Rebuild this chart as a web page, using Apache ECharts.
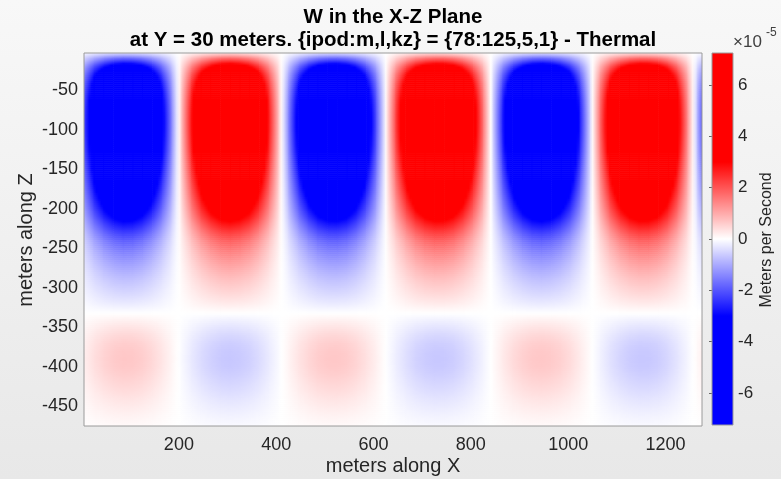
<!DOCTYPE html>
<html>
<head>
<meta charset="utf-8">
<script src="https://cdn.jsdelivr.net/npm/echarts@6/dist/echarts.min.js"></script>
<style>
  html, body { margin: 0; padding: 0; }
  #main { width: 781px; height: 479px; }
</style>
</head>
<body>
<div id="main"></div>
<script>
// x positions (m) and normalised W shape along X
var xNodes = [5, 25, 45, 65, 85, 105, 125, 145, 165, 185, 205, 225, 245, 265, 285, 305, 325, 345, 365, 385,
    405, 425, 445, 465, 485, 505, 525, 545, 565, 585, 605, 625, 645, 665, 685, 705, 725, 745, 765, 785,
    805, 825, 845, 865, 885, 905, 925, 945, 965, 985, 1005, 1025, 1045, 1065, 1085, 1105, 1125, 1145, 1165, 1185,
    1205, 1225, 1245, 1265, 1275];
var xShape = [-0.30, -0.57, -0.78, -0.93, -1.00, -0.98, -0.88, -0.70, -0.46, -0.19,
    0.10, 0.39, 0.64, 0.83, 0.96, 1.00, 0.95, 0.83, 0.63, 0.37,
    0.09, -0.20, -0.48, -0.71, -0.89, -0.98, -0.99, -0.92, -0.76, -0.54,
    -0.28, 0.01, 0.30, 0.56, 0.78, 0.92, 0.99, 0.98, 0.89, 0.72,
    0.49, 0.22, -0.07, -0.37, -0.63, -0.83, -0.96, -1.00, -0.95, -0.82,
    -0.62, -0.35, -0.06, 0.24, 0.52, 0.75, 0.91, 0.99, 0.98, 0.89,
    0.71, 0.46, 0.18, -0.12, -0.27];

// depths (m) and W amplitude along Z (x 1e-5 m/s)
var zNodes = [-3, -10, -20, -30, -40, -50, -60, -70, -80, -90, -100, -110, -120, -130, -140, -150, -160, -170,
    -180, -190, -200, -210, -220, -230, -240, -250, -260, -270, -280, -290, -300, -310, -320, -330, -340,
    -350, -360, -370, -380, -390, -400, -410, -420, -430, -440, -450, -460, -470, -475];
var zShape = [0.4, 1.8, 3.6, 4.9, 5.8, 6.4, 6.8, 7.05, 7.2, 7.25, 7.2, 7.05, 6.85, 6.6, 6.3, 5.95, 5.55, 5.15,
    4.75, 4.3, 3.85, 3.35, 2.8, 2.3, 1.9, 1.6, 1.35, 1.12, 0.92, 0.74, 0.58, 0.42, 0.25, 0.05, -0.15,
    -0.32, -0.47, -0.58, -0.64, -0.66, -0.64, -0.58, -0.5, -0.42, -0.33, -0.25, -0.17, -0.1, -0.07];

var xTicks = [200, 400, 600, 800, 1000, 1200];
var zTicks = [-50, -100, -150, -200, -250, -300, -350, -400, -450];
var cbarTicks = [-6, -4, -2, 0, 2, 4, 6];
var cbarRange = [-7.25, 7.25];

var FONT = '"Liberation Sans", Arial, Helvetica, sans-serif';
var SAT = 3;     // colormap is fully saturated beyond +-3e-5
var NSUB = 4;

function wColor(v) {
    var t = Math.min(Math.abs(v) / SAT, 1);
    var c = Math.round(255 * (1 - t));
    return v < 0 ? 'rgb(' + c + ',' + c + ',255)' : 'rgb(255,' + c + ',' + c + ')';
}

// field table W(x,z) = shape(x) * amplitude(z)
var field = [];
for (var i = 0; i < xNodes.length; i++) {
    field.push([]);
    for (var j = 0; j < zNodes.length; j++) {
        field[i].push(xShape[i] * zShape[j]);
    }
}

var cells = [];
for (i = 0; i < xNodes.length - 1; i++) {
    for (j = 0; j < zNodes.length - 1; j++) {
        cells.push([xNodes[i], zNodes[j], xNodes[i + 1], zNodes[j + 1], i, j]);
    }
}

function renderCell(params, api) {
    var ci = api.value(4), cj = api.value(5);
    var p0 = api.coord([api.value(0), api.value(1)]);
    var p1 = api.coord([api.value(2), api.value(3)]);
    var w = p1[0] - p0[0], h = p1[1] - p0[1];
    var kids = [];
    for (var s = 0; s < NSUB; s++) {
        var f = (s + 0.5) / NSUB;
        var vl = field[ci][cj] * (1 - f) + field[ci][cj + 1] * f;
        var vr = field[ci + 1][cj] * (1 - f) + field[ci + 1][cj + 1] * f;
        var stops = [];
        for (var k = 0; k <= 4; k++) {
            stops.push({offset: k / 4, color: wColor(vl + (vr - vl) * k / 4)});
        }
        kids.push({
            type: 'rect',
            silent: true,
            shape: {x: p0[0], y: p0[1] + s * h / NSUB, width: w + 0.6, height: h / NSUB + 0.6},
            style: {fill: new echarts.graphic.LinearGradient(0, 0, 1, 0, stops)}
        });
    }
    return {type: 'group', children: kids};
}

function renderBar(params, api) {
    var p0 = api.coord([api.value(0), api.value(3)]);
    var p1 = api.coord([api.value(2), api.value(1)]);
    var stops = [];
    for (var k = 0; k <= 58; k++) {
        var v = cbarRange[1] - (cbarRange[1] - cbarRange[0]) * k / 58;
        stops.push({offset: k / 58, color: wColor(v)});
    }
    return {
        type: 'rect',
        shape: {x: p0[0], y: p0[1], width: p1[0] - p0[0], height: p1[1] - p0[1]},
        style: {fill: new echarts.graphic.LinearGradient(0, 0, 0, 1, stops)}
    };
}

var myChart = echarts.init(document.getElementById('main'));
var option = {
    animation: false,
    backgroundColor: new echarts.graphic.LinearGradient(0, 0, 0, 1, [
        {offset: 0, color: '#f8f8f8'}, {offset: 1, color: '#e8e8e8'}
    ]),
    textStyle: {fontFamily: FONT},
    grid: [
        {left: 84, right: 79, top: 53, bottom: 53, show: true, z: 10,
         backgroundColor: 'transparent', borderColor: '#9a9a9a', borderWidth: 1},
        {left: 712, width: 21, top: 53, bottom: 54, show: true, z: 10,
         backgroundColor: 'transparent', borderColor: '#9a9a9a', borderWidth: 1}
    ],
    xAxis: [
        {type: 'value', gridIndex: 0, min: 5, max: 1275,
         axisLine: {show: false}, axisTick: {show: false}, splitLine: {show: false},
         axisLabel: {customValues: xTicks, fontSize: 18, color: '#262626', margin: 10, fontFamily: FONT,
             formatter: function (v) { return String(v); }}},
        {type: 'value', gridIndex: 1, min: 0, max: 1, show: false}
    ],
    yAxis: [
        {type: 'value', gridIndex: 0, min: -475, max: -3,
         axisLine: {show: false}, axisTick: {show: false}, splitLine: {show: false},
         axisLabel: {customValues: zTicks, fontSize: 18, color: '#262626', margin: 6, fontFamily: FONT}},
        {type: 'value', gridIndex: 1, position: 'right', min: cbarRange[0], max: cbarRange[1],
         axisLine: {show: false}, splitLine: {show: false},
         axisTick: {show: true, inside: true, length: 3, customValues: cbarTicks, lineStyle: {color: '#666'}},
         axisLabel: {customValues: cbarTicks, fontSize: 17, color: '#262626', margin: 5, fontFamily: FONT}}
    ],
    series: [
        {type: 'custom', xAxisIndex: 0, yAxisIndex: 0, data: cells, renderItem: renderCell,
         encode: {x: [0, 2], y: [1, 3]}, clip: true, progressive: 0, silent: true},
        {type: 'custom', xAxisIndex: 1, yAxisIndex: 1,
         data: [[0, cbarRange[0], 1, cbarRange[1]]], renderItem: renderBar,
         encode: {x: [0, 2], y: [1, 3]}, silent: true}
    ],
    graphic: [
        {type: 'text', x: 393, y: 17, style: {text: 'W in the X-Z Plane', fontSize: 20.5, fontWeight: 'bold',
            fontFamily: FONT, fill: '#000', align: 'center', verticalAlign: 'middle'}},
        {type: 'text', x: 393, y: 40, style: {text: 'at Y = 30 meters. {ipod:m,l,kz} = {78:125,5,1} - Thermal',
            fontSize: 20.5, fontWeight: 'bold', fontFamily: FONT, fill: '#000', align: 'center', verticalAlign: 'middle'}},
        {type: 'text', x: 393, y: 466, style: {text: 'meters along X', fontSize: 20, fontFamily: FONT,
            fill: '#262626', align: 'center', verticalAlign: 'middle'}},
        {type: 'text', x: 26, y: 240, rotation: Math.PI / 2, style: {text: 'meters along Z', fontSize: 20,
            fontFamily: FONT, fill: '#262626', align: 'center', verticalAlign: 'middle'}},
        {type: 'text', x: 767, y: 240, rotation: Math.PI / 2, style: {text: 'Meters per Second', fontSize: 16,
            fontFamily: FONT, fill: '#262626', align: 'center', verticalAlign: 'middle'}},
        {type: 'text', x: 733, y: 42, style: {text: '\u00d710', fontSize: 17, fontFamily: FONT,
            fill: '#404040', align: 'left', verticalAlign: 'middle'}},
        {type: 'text', x: 766, y: 33, style: {text: '-5', fontSize: 12, fontFamily: FONT,
            fill: '#404040', align: 'left', verticalAlign: 'middle'}}
    ]
};
myChart.setOption(option);
</script>
</body>
</html>
